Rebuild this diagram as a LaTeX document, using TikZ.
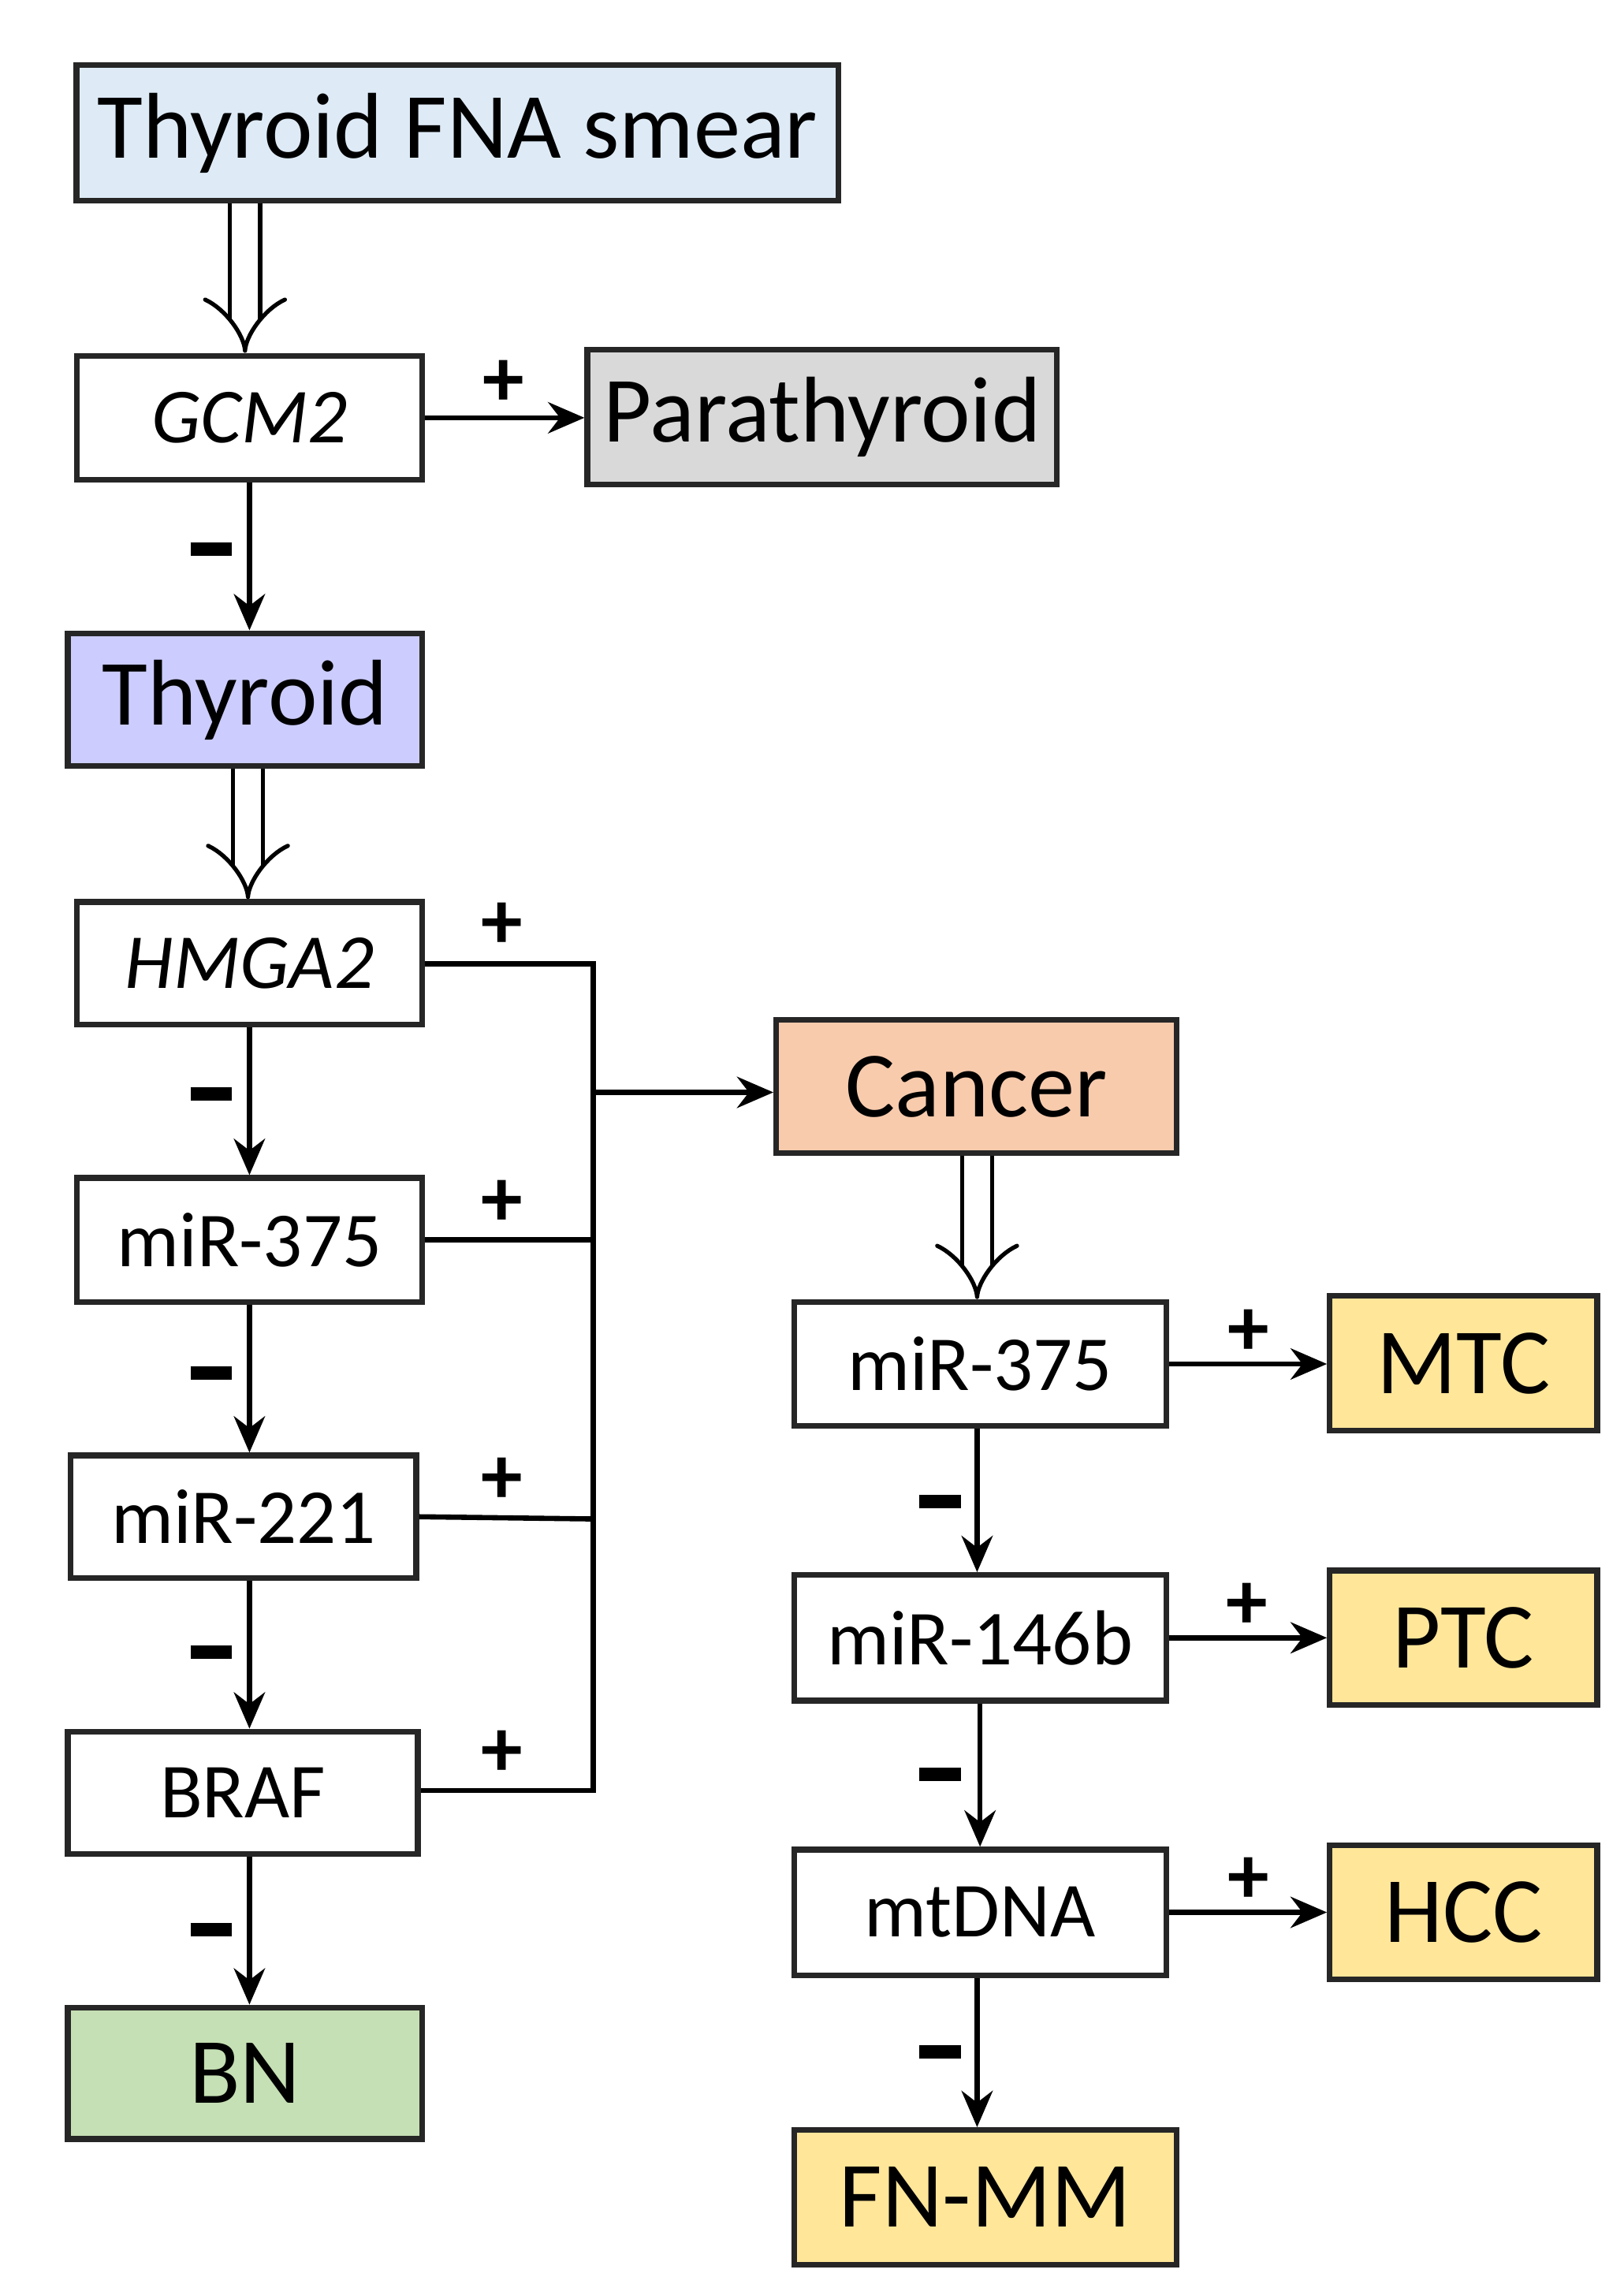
\documentclass[tikz,border=0pt]{standalone}
\usepackage{fontspec}
\setmainfont{Carlito}
\usetikzlibrary{arrows.meta}
\begin{document}
\begin{tikzpicture}[x=0.01cm,y=-0.01cm,
  bx/.style={draw=black!85,line width=1.1pt,rectangle,inner sep=0pt,font=\fontsize{15}{18}\selectfont},
  big/.style={font=\fontsize{18}{22}\selectfont},
  ar/.style={line width=1pt,-{Stealth[length=7pt,width=6pt]}},
  hol/.style={line width=0.8pt,double,double distance=5pt,-{Implies[]}},
  ln/.style={line width=1pt},
  sg/.style={font=\fontsize{16}{18}\selectfont\bfseries}]
\useasboundingbox (0,0) rectangle (1100,1550);
\definecolor{cblue}{RGB}{222,235,247}
\definecolor{cgray}{RGB}{217,217,217}
\definecolor{cpurp}{RGB}{204,204,255}
\definecolor{cgreen}{RGB}{197,224,180}
\definecolor{corange}{RGB}{248,203,173}
\definecolor{cyel}{RGB}{255,230,153}
\node[bx,big,fill=cblue,minimum width=5.16cm,minimum height=0.92cm] (fna) at (310,90) {Thyroid FNA smear};
\node[bx,minimum width=2.34cm,minimum height=0.84cm] (gcm) at (169,283) {\itshape GCM2};
\node[bx,big,fill=cgray,minimum width=3.18cm,minimum height=0.91cm] (para) at (557,282.5) {Parathyroid};
\node[bx,big,fill=cpurp,minimum width=2.40cm,minimum height=0.90cm] (thy) at (166,474) {Thyroid};
\node[bx,minimum width=2.34cm,minimum height=0.83cm] (hmga) at (169,652.5) {\itshape HMGA2};
\node[bx,minimum width=2.34cm,minimum height=0.84cm] (ma) at (169,840) {miR-375};
\node[bx,minimum width=2.34cm,minimum height=0.83cm] (mb) at (165,1027.5) {miR-221};
\node[bx,minimum width=2.37cm,minimum height=0.83cm] (braf) at (164.5,1214.5) {BRAF};
\node[bx,big,fill=cgreen,minimum width=2.40cm,minimum height=0.89cm] (bn) at (166,1404.5) {BN};
\node[bx,big,fill=corange,minimum width=2.71cm,minimum height=0.90cm] (can) at (661.5,736) {Cancer};
\node[bx,minimum width=2.52cm,minimum height=0.84cm] (ra) at (664,924) {miR-375};
\node[bx,big,fill=cyel,minimum width=1.81cm,minimum height=0.91cm] (mtc) at (991.5,923.5) {MTC};
\node[bx,minimum width=2.52cm,minimum height=0.85cm] (rb) at (664,1109.5) {miR-146b};
\node[bx,big,fill=cyel,minimum width=1.81cm,minimum height=0.91cm] (ptc) at (991.5,1109.5) {PTC};
\node[bx,minimum width=2.52cm,minimum height=0.85cm] (rc) at (664,1295.5) {mtDNA};
\node[bx,big,fill=cyel,minimum width=1.81cm,minimum height=0.91cm] (hcc) at (991.5,1295.5) {HCC};
\node[bx,big,fill=cyel,minimum width=2.59cm,minimum height=0.91cm] (fnmm) at (667.5,1488.5) {FN-MM};
% hollow arrows
\draw[hol] (fna.south -| 166,0) -- (gcm.north -| 166,0);
\draw[hol] (thy.south -| 168,0) -- (hmga.north -| 168,0);
\draw[hol] (can.south -| 662,0) -- (ra.north -| 662,0);
% vertical arrows
\draw[ar] (gcm.south -| 169,0) -- (thy.north -| 169,0);
\draw[ar] (hmga.south -| 169,0) -- (ma.north -| 169,0);
\draw[ar] (ma.south -| 169,0) -- (mb.north -| 169,0);
\draw[ar] (mb.south -| 169,0) -- (braf.north -| 169,0);
\draw[ar] (braf.south -| 169,0) -- (bn.north -| 169,0);
\draw[ar] (ra.south -| 662,0) -- (rb.north -| 662,0);
\draw[ar] (rb.south -| 664,0) -- (rc.north -| 664,0);
\draw[ar] (rc.south -| 662,0) -- (fnmm.north -| 662,0);
% horizontal
\draw[ar] (gcm.east) -- (para.west |- gcm.east);
\draw[ar] (ra.east) -- (mtc.west |- ra.east);
\draw[ar] (rb.east) -- (ptc.west |- rb.east);
\draw[ar] (rc.east) -- (hcc.west |- rc.east);
% bus
\coordinate (btop) at (402,653);
\coordinate (bbot) at (402,1213);
\coordinate (bmid) at (402,740);
\draw[ln] (hmga.east |- btop) -- (btop) -- (bbot) -- (braf.east |- bbot);
\draw[ln] (ma.east) -- (402,840);
\draw[ln] (mb.east) -- (402,1029);
\draw[ar] (bmid) -- (can.west |- bmid);
% signs
\foreach \y in {372,741,930,1119,1307} \node[sg] at (143,\y) {\rule{0.28cm}{0.09cm}};
\foreach \y in {1017,1202,1390} \node[sg] at (637,\y) {\rule{0.28cm}{0.09cm}};
\foreach \x/\y in {341/260,340/627,340/815,340/1003,340/1188,846/903,845/1088,846/1274} \node[sg] at (\x,\y) {+};
\end{tikzpicture}
\end{document}
